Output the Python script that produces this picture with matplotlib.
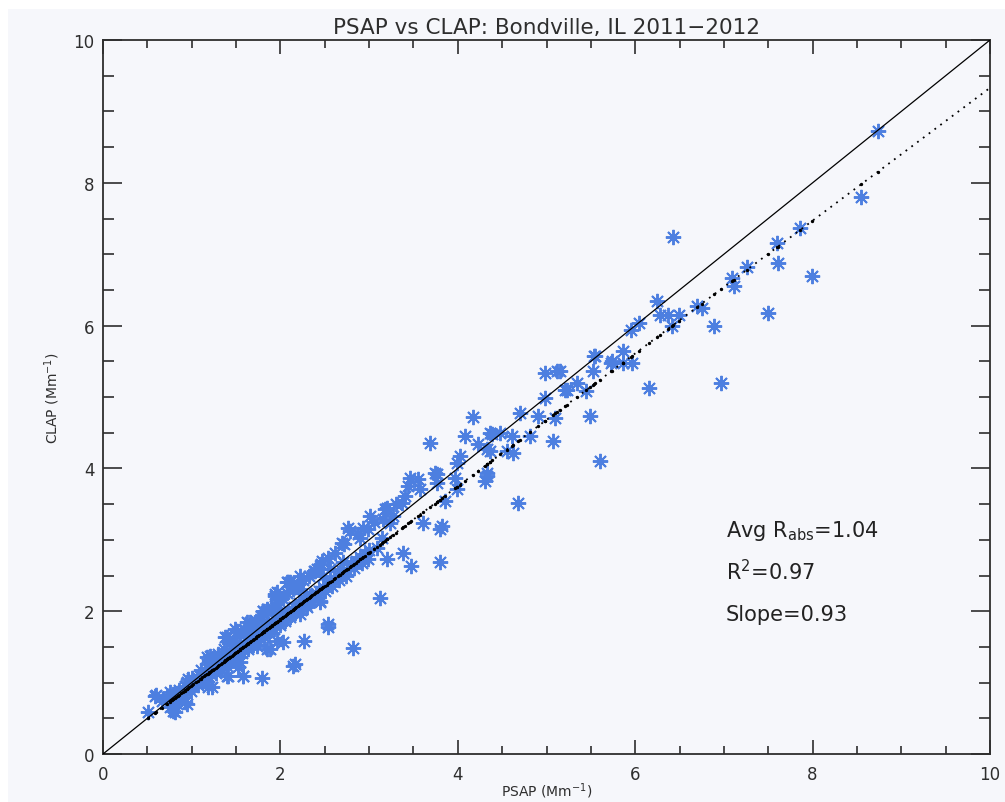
import numpy as np
import matplotlib.pyplot as plt
from matplotlib.ticker import MultipleLocator

# PSAP vs CLAP absorption, Bondville IL (Mm^-1)
psap = [
    # sparse upper range
    8.74, 8.55, 7.86, 7.60, 7.61, 7.26, 7.09, 7.11, 7.99, 7.50, 6.89, 6.75,
    6.70, 6.43, 6.25, 6.28, 6.37, 6.49, 6.41, 6.97, 6.15, 5.95, 6.04, 5.86,
    5.54, 5.52, 5.73, 5.86, 5.96, 5.34, 5.21, 5.45, 5.49, 5.15, 4.98, 5.12,
    5.55, 5.74, 4.98, 5.23, 4.70, 4.17, 4.90, 5.10, 4.08, 4.39, 4.48, 4.61,
    4.81, 4.23, 5.07, 4.62, 4.02, 4.36, 3.69, 3.74, 4.33, 3.99, 5.60, 4.36,
    4.33, 4.33, 4.31, 3.46, 3.55, 3.77, 3.44, 3.57, 3.77, 3.97, 3.99, 3.86,
    3.37, 3.20, 3.01, 3.16, 3.27, 3.61, 3.82, 2.76, 2.93, 3.18, 3.24, 2.78,
    2.90, 2.69, 2.99, 3.09, 3.20, 2.99, 3.38, 3.47, 3.12, 2.54, 3.80, 3.80,
    4.68, 4.55,
    # 0.5 - 3 Mm^-1
    2.47, 2.56, 2.39, 2.09, 1.94, 2.22, 2.33, 2.45, 2.67, 2.48, 2.22, 2.00,
    1.85, 1.66, 2.54, 2.27, 2.82, 2.16, 1.79, 2.03, 1.58, 1.41, 1.23, 0.81,
    0.51, 0.60, 0.76, 0.95, 0.95, 1.21, 1.38, 1.49, 1.80, 1.94, 2.07, 2.22,
    2.41, 2.69, 2.71, 2.45, 2.30, 1.88, 1.74, 1.55, 1.09, 0.59, 0.79, 0.92,
    1.18, 1.40, 1.58, 1.52, 1.43, 2.14, 1.85, 1.96, 1.17, 1.40, 1.51, 1.62,
    1.80, 1.96, 2.11, 0.96, 0.79, 0.66,
    # dense band
    0.72, 0.78, 0.84, 0.88, 0.93, 0.97, 1.02, 1.05, 1.09, 1.12, 1.15, 1.19,
    1.22, 1.25, 1.28, 1.31, 1.34, 1.37, 1.40, 1.43, 1.46, 1.49, 1.52, 1.55,
    1.58, 1.61, 1.64, 1.67, 1.70, 1.73, 1.76, 1.79, 1.82, 1.85, 1.88, 1.91,
    1.94, 1.97, 2.00, 2.03, 2.06, 2.09, 2.12, 2.15, 2.18, 2.21, 2.24, 2.27,
    2.30, 2.33, 2.36, 2.40, 2.44, 2.48, 2.52, 2.56, 2.60, 2.65, 2.70, 2.75,
    2.80, 2.85, 2.90, 2.95, 3.00,
    0.75, 0.82, 0.90, 0.99, 1.07, 1.14, 1.20, 1.27, 1.33, 1.39, 1.45, 1.51,
    1.57, 1.63, 1.69, 1.75, 1.81, 1.87, 1.93, 1.99, 2.05, 2.11, 2.17, 2.23,
    2.29, 2.35, 2.42, 2.50, 2.58, 2.66, 2.74, 2.83, 2.92,
    0.86, 1.00, 1.10, 1.17, 1.24, 1.30, 1.36, 1.42, 1.48, 1.54, 1.60, 1.66,
    1.72, 1.78, 1.84, 1.90, 1.96, 2.02, 2.08, 2.14, 2.20, 2.26, 2.32, 2.38,
    2.46, 2.54, 2.62, 2.72, 2.88, 3.05, 3.15, 3.30, 3.40,
]
clap = [
    8.73, 7.80, 7.37, 7.15, 6.87, 6.82, 6.67, 6.55, 6.69, 6.18, 6.00, 6.25,
    6.27, 7.24, 6.34, 6.15, 6.15, 6.15, 5.99, 5.20, 5.12, 5.94, 6.03, 5.65,
    5.57, 5.36, 5.48, 5.48, 5.47, 5.20, 5.10, 5.08, 4.74, 5.36, 5.34, 5.37,
    5.57, 5.50, 4.99, 5.10, 4.78, 4.72, 4.73, 4.71, 4.45, 4.48, 4.50, 4.46,
    4.46, 4.34, 4.38, 4.21, 4.17, 4.24, 4.36, 3.93, 3.94, 4.08, 4.11, 4.50,
    4.27, 3.89, 3.82, 3.87, 3.85, 3.92, 3.75, 3.71, 3.80, 3.87, 3.71, 3.54,
    3.52, 3.45, 3.34, 3.29, 3.33, 3.24, 3.19, 3.16, 3.17, 3.43, 3.24, 3.12,
    3.03, 2.96, 3.15, 2.89, 2.73, 2.73, 2.82, 2.64, 2.18, 1.82, 2.69, 3.15,
    3.52, 4.25,
    2.70, 2.59, 2.56, 2.41, 2.24, 2.31, 2.21, 2.13, 2.52, 2.49, 1.96, 1.99,
    2.03, 1.85, 1.78, 1.58, 1.48, 1.26, 1.06, 1.57, 1.09, 1.09, 0.94, 0.59,
    0.59, 0.83, 0.87, 0.70, 1.01, 1.37, 1.64, 1.75, 2.00, 2.21, 2.41, 2.49,
    2.59, 2.52, 2.69, 2.14, 2.06, 1.47, 1.51, 1.29, 1.09, 0.81, 0.60, 0.73,
    0.94, 1.09, 1.09, 1.22, 1.29, 1.23, 1.47, 1.58, 1.36, 1.64, 1.72, 1.85,
    2.00, 2.27, 2.41, 1.05, 0.84, 0.74,
    0.80, 0.76, 0.86, 0.84, 0.95, 0.92, 1.04, 0.99, 1.10, 1.06, 1.15, 1.14,
    1.20, 1.18, 1.26, 1.24, 1.30, 1.30, 1.36, 1.38, 1.40, 1.46, 1.45, 1.52,
    1.50, 1.58, 1.55, 1.64, 1.60, 1.70, 1.66, 1.74, 1.71, 1.80, 1.76, 1.86,
    1.82, 1.90, 1.88, 1.95, 1.92, 2.02, 1.97, 2.06, 2.04, 2.12, 2.08, 2.16,
    2.15, 2.20, 2.21, 2.26, 2.28, 2.34, 2.36, 2.42, 2.44, 2.50, 2.56, 2.58,
    2.66, 2.70, 2.76, 2.80, 2.86,
    0.66, 0.72, 0.80, 0.88, 0.96, 1.02, 1.08, 1.14, 1.19, 1.25, 1.31, 1.36,
    1.42, 1.47, 1.53, 1.58, 1.64, 1.70, 1.75, 1.80, 1.86, 1.92, 1.97, 2.02,
    2.08, 2.14, 2.20, 2.28, 2.35, 2.43, 2.50, 2.60, 2.68,
    0.90, 1.07, 1.18, 1.26, 1.34, 1.40, 1.47, 1.55, 1.60, 1.67, 1.74, 1.80,
    1.86, 1.93, 2.00, 2.05, 2.12, 2.18, 2.26, 2.31, 2.38, 2.44, 2.50, 2.56,
    2.66, 2.74, 2.82, 2.94, 3.08, 3.25, 3.02, 3.50, 3.62,
]

avg_ratio = 1.04
r_squared = 0.97
slope = 0.93
intercept = 0.03

bg = "#f6f7fb"
ink = "#2e2e2e"
fig = plt.figure(figsize=(10.05, 8.03), dpi=100, facecolor="white")
fig.patches.append(plt.Rectangle((8 / 1005, 0), 1, 793 / 803, transform=fig.transFigure,
                                 facecolor=bg, edgecolor="none", zorder=-10))
ax = fig.add_axes([103 / 1005, 48 / 803, 887 / 1005, 714 / 803])
ax.set_facecolor(bg)

ax.plot(psap, clap, linestyle="none", marker=(8, 2, 0), markersize=11,
        markeredgewidth=1.4, color="#4d7fe0", zorder=2)

# one-to-one line
ax.plot([0, 10], [0, 10], color="black", linewidth=0.9, zorder=3)

# linear fit: dotted line plus fit value at every PSAP point
xs = np.sort(np.array(psap))
xf = np.linspace(xs[0], 10, 200)
ax.plot(xf, slope * xf + intercept, color="black", linestyle=(0, (1, 3)),
        linewidth=1.3, zorder=3)
ax.plot(xs, slope * xs + intercept, linestyle="none", marker="o", markersize=1.4,
        color="black", zorder=3)

ax.set_xlim(0, 10)
ax.set_ylim(0, 10)
ax.xaxis.set_major_locator(MultipleLocator(2))
ax.xaxis.set_minor_locator(MultipleLocator(0.5))
ax.yaxis.set_major_locator(MultipleLocator(2))
ax.yaxis.set_minor_locator(MultipleLocator(0.5))
ax.tick_params(axis="x", which="both", direction="in", top=True, labelsize=12,
               pad=8, color=ink, width=1.2, labelcolor=ink)
ax.tick_params(axis="y", which="both", direction="in", right=True, labelsize=12,
               pad=6, color=ink, width=1.2, labelcolor=ink)
ax.tick_params(axis="x", which="major", length=10)
ax.tick_params(axis="x", which="minor", length=6)
ax.tick_params(axis="y", which="major", length=14)
ax.tick_params(axis="y", which="minor", length=8)
for s in ax.spines.values():
    s.set_linewidth(1.3)
    s.set_color(ink)

ax.set_title("PSAP vs CLAP: Bondville, IL 2011\u22122012", fontsize=15.5,
             color=ink, pad=5)
ax.set_xlabel("PSAP (Mm$^{-1}$)", fontsize=10, color=ink)
ax.xaxis.set_label_coords(0.5, -0.037)
ax.set_ylabel("CLAP (Mm$^{-1}$)", fontsize=10, color=ink)
ax.yaxis.set_label_coords(-0.046, 0.5)

ax.text(7.02, 3.05, "Avg R$_{\\mathrm{abs}}$=%.2f" % avg_ratio, fontsize=15, color="#222222")
ax.text(7.02, 2.45, "R$^2$=%.2f" % r_squared, fontsize=15, color="#222222")
ax.text(7.02, 1.87, "Slope=%.2f" % slope, fontsize=15, color="#222222")

fig.savefig("out.png", dpi=100, facecolor=fig.get_facecolor())
